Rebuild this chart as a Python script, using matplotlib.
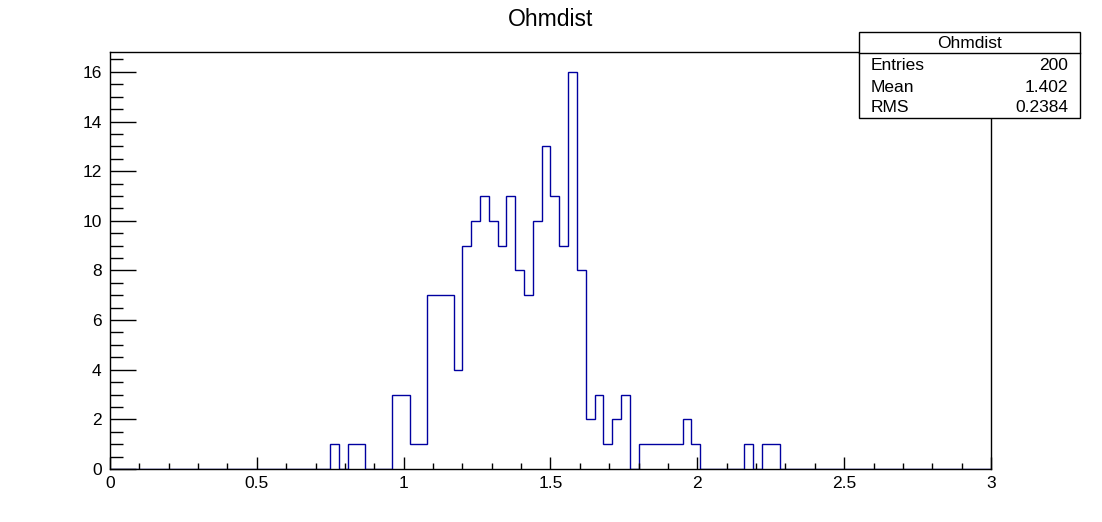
import numpy as np
import matplotlib
matplotlib.use("Agg")
import matplotlib.pyplot as plt
from matplotlib.ticker import MultipleLocator, FuncFormatter

plt.rcParams['font.family'] = ['Liberation Sans', 'DejaVu Sans']

# 100 bins from 0 to 3, non-empty bins
nbins = 100
xmin, xmax = 0.0, 3.0
filled_bins = [25, 27, 28, 32, 33, 34, 35, 36, 37, 38, 39,
               40, 41, 42, 43, 44, 45, 46, 47, 48, 49, 50, 51, 52, 53,
               54, 55, 56, 57, 58, 60, 61, 62, 63, 64, 65, 66, 72, 74, 75]
filled_counts = [1, 1, 1, 3, 3, 1, 1, 7, 7, 7, 4,
                 9, 10, 11, 10, 9, 11, 8, 7, 10, 13, 11, 9, 16, 8,
                 2, 3, 1, 2, 3, 1, 1, 1, 1, 1, 2, 1, 1, 1, 1]
stat_names = ["Entries", "Mean", "RMS"]
stat_values = ["200", "1.402", "0.2384"]

counts = np.zeros(nbins)
counts[filled_bins] = filled_counts
edges = np.linspace(xmin, xmax, nbins + 1)

fig = plt.figure(figsize=(11.02, 5.22), dpi=100)
ax = fig.add_axes([110/1102, 53/522, 881/1102, 417/522])
ax.stairs(counts, edges, color='#0000a0', lw=1.0)

ax.set_xlim(xmin, xmax)
ax.set_ylim(0, 16.8)
ax.xaxis.set_major_locator(MultipleLocator(0.5))
ax.xaxis.set_minor_locator(MultipleLocator(0.1))
ax.yaxis.set_major_locator(MultipleLocator(2))
ax.yaxis.set_minor_locator(MultipleLocator(0.5))
ax.xaxis.set_major_formatter(FuncFormatter(lambda v, p: '%g' % v))
ax.tick_params(axis='both', which='both', direction='in', top=False, right=False,
               labelsize=12.5, width=1, color='black')
ax.tick_params(axis='x', which='major', length=8.6, pad=5)
ax.tick_params(axis='x', which='minor', length=4.3)
ax.tick_params(axis='y', which='major', length=18.7, pad=6)
ax.tick_params(axis='y', which='minor', length=9.4)
for s in ax.spines.values():
    s.set_linewidth(1)

fig.text(551/1102, 1 - 19/522, "Ohmdist", ha='center', va='center', fontsize=16.5)

# stats box
bx0, bx1 = 859/1102, 1080/1102
by0, by1 = 1 - 118/522, 1 - 32/522
fig.patches.append(plt.Rectangle((bx0, by0), bx1 - bx0, by1 - by0, transform=fig.transFigure,
                                 facecolor='white', edgecolor='black', lw=1, zorder=5))
hy = 1 - 53/522
fig.lines.append(plt.Line2D([bx0, bx1], [hy, hy], transform=fig.transFigure,
                            color='black', lw=1, zorder=6))
fig.text((bx0 + bx1) / 2, 1 - 44/522, "Ohmdist", ha='center', va='center', fontsize=12.5, zorder=7)
for k in range(3):
    yy = 1 - (66 + 21 * k) / 522
    fig.text(871/1102, yy, stat_names[k], ha='left', va='center', fontsize=12.5, zorder=7)
    fig.text(1068/1102, yy, stat_values[k], ha='right', va='center', fontsize=12.5, zorder=7)

fig.savefig("out.png", dpi=100)
